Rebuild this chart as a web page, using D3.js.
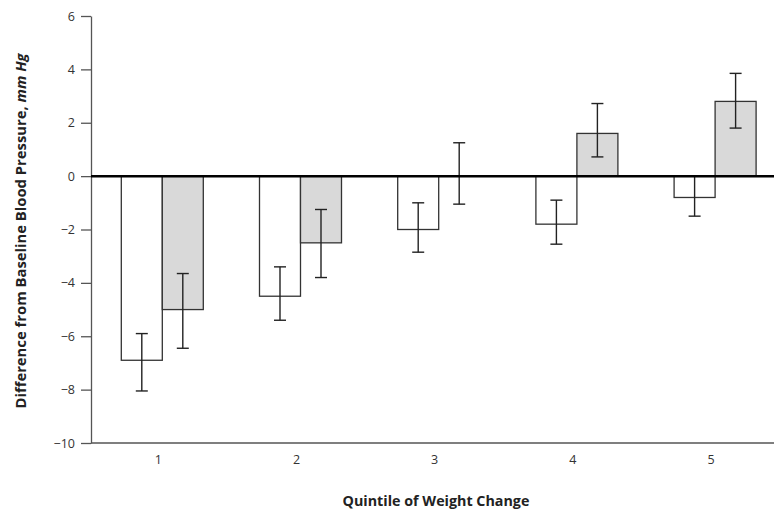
<!DOCTYPE html>
<html>
<head>
<meta charset="utf-8">
<script src="https://cdn.jsdelivr.net/npm/d3@7"></script>
<style>
  body { margin: 0; background: #fff; }
  svg { display: block; }
  .tick text { font-family: "Open Sans", sans-serif; font-size: 12.5px; fill: #333; }
  .axis-title { font-family: "Open Sans", sans-serif; font-weight: bold; fill: #222; }
</style>
</head>
<body>
<div id="chart"></div>
<script>
// quintiles of weight change
const quintiles = ["1", "2", "3", "4", "5"];
const groups = ["white", "gray"];

// mean difference from baseline BP (mm Hg)
const whiteMean = [-6.9, -4.5, -2.0, -1.8, -0.8];
const whiteLow  = [-8.05, -5.4, -2.85, -2.55, -1.5];
const whiteHigh = [-5.9, -3.4, -1.0, -0.9, 0.0];

const grayMean = [-5.0, -2.5, 0.0, 1.6, 2.8];
const grayLow  = [-6.45, -3.8, -1.05, 0.72, 1.8];
const grayHigh = [-3.65, -1.25, 1.25, 2.72, 3.85];

const yTicks = [6, 4, 2, 0, -2, -4, -6, -8, -10];

// flatten into rows for drawing
const rows = [];
quintiles.forEach((q, i) => {
    rows.push({ q, g: "white", mean: whiteMean[i], lo: whiteLow[i], hi: whiteHigh[i] });
    rows.push({ q, g: "gray", mean: grayMean[i], lo: grayLow[i], hi: grayHigh[i] });
});

const width = 774, height = 514;
const axisX = 91, axisTop = 16, axisBottom = 443, axisRight = 774;

const svg = d3.select("#chart").append("svg")
    .attr("width", width)
    .attr("height", height);

const y = d3.scaleLinear().domain([-10, 6]).range([axisBottom, axisTop]);
const x0 = d3.scaleBand().domain(quintiles).range([93.2, 784.2]);
const x1 = d3.scaleBand().domain(groups).range([x0.bandwidth() / 2 - 41, x0.bandwidth() / 2 + 41]);

// y axis
const gy = svg.append("g")
    .attr("transform", `translate(${axisX},0)`)
    .call(d3.axisLeft(y).tickValues(yTicks).tickSize(10).tickPadding(6).tickSizeOuter(0));
gy.select(".domain").attr("stroke", "#555").attr("stroke-width", 1.3);
gy.selectAll(".tick line").attr("stroke", "#555").attr("stroke-width", 1.3);

// x axis at the bottom (no tick marks)
const gx = svg.append("g")
    .attr("transform", `translate(0,${axisBottom})`)
    .call(d3.axisBottom(x0).tickSize(0).tickPadding(12));
gx.select(".domain").attr("d", `M${axisX},0H${axisRight}`).attr("stroke", "#555").attr("stroke-width", 1.3);
gx.selectAll(".tick text").attr("dx", -4);

// bars
svg.selectAll("rect.bar")
    .data(rows)
    .enter()
    .append("rect")
    .attr("class", "bar")
    .attr("x", d => x0(d.q) + x1(d.g))
    .attr("width", x1.bandwidth())
    .attr("y", d => y(Math.max(0, d.mean)))
    .attr("height", d => Math.abs(y(d.mean) - y(0)))
    .attr("fill", d => d.g === "gray" ? "#d9d9d9" : "#fff")
    .attr("stroke", "#333")
    .attr("stroke-width", 1.3);

// error bars
const cap = 6;
const err = svg.selectAll("g.err")
    .data(rows)
    .enter()
    .append("g")
    .attr("class", "err")
    .attr("transform", d => `translate(${x0(d.q) + x1(d.g) + x1.bandwidth() / 2},0)`)
    .attr("stroke", "#222")
    .attr("stroke-width", 1.4);
err.append("line").attr("y1", d => y(d.lo)).attr("y2", d => y(d.hi));
err.append("line").attr("x1", -cap).attr("x2", cap).attr("y1", d => y(d.lo)).attr("y2", d => y(d.lo));
err.append("line").attr("x1", -cap).attr("x2", cap).attr("y1", d => y(d.hi)).attr("y2", d => y(d.hi));

// zero line
svg.append("line")
    .attr("x1", axisX).attr("x2", axisRight)
    .attr("y1", y(0)).attr("y2", y(0))
    .attr("stroke", "#000")
    .attr("stroke-width", 2.5);

// axis titles
svg.append("text")
    .attr("class", "axis-title")
    .attr("x", 436)
    .attr("y", 506)
    .attr("text-anchor", "middle")
    .style("font-size", "14.3px")
    .text("Quintile of Weight Change");

const yt = svg.append("text")
    .attr("class", "axis-title")
    .attr("transform", "translate(26,231) rotate(-90)")
    .attr("text-anchor", "middle")
    .style("font-size", "14.8px");
yt.append("tspan").text("Difference from Baseline Blood Pressure, ");
yt.append("tspan").attr("font-style", "italic").text("mm Hg");
</script>
</body>
</html>
